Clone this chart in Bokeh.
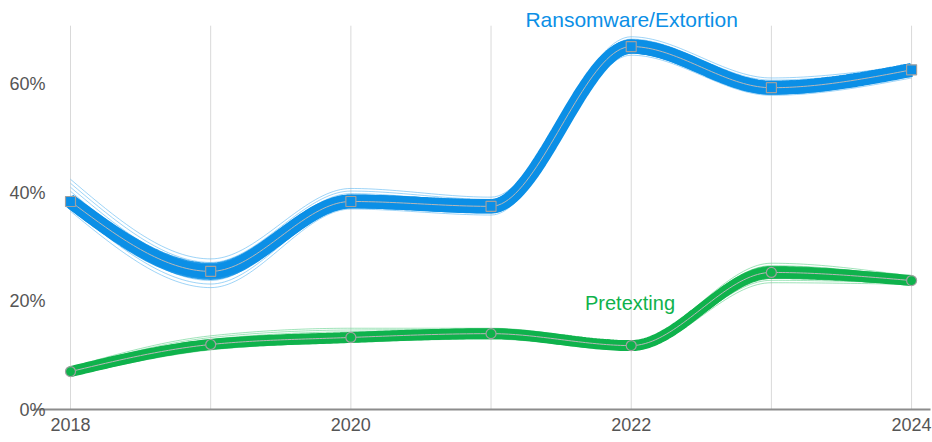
import numpy as np
from bokeh.plotting import figure
from bokeh.models import Range1d, FixedTicker, PrintfTickFormatter, Label
from bokeh.embed import file_html
from bokeh.resources import INLINE

# ---- data ----
years = [2018, 2019, 2020, 2021, 2022, 2023, 2024]
label_years = [2018, 2020, 2022, 2024]
y_ticks = [0, 20, 40, 60]
grid_top = 70.85

ransom = [38.4, 25.5, 38.4, 37.5, 67.0, 59.4, 62.7]
ransom_hi = [42.5, 27.8, 40.8, 39.2, 68.8, 61.2, 63.6]
ransom_lo = [36.6, 22.5, 37.0, 35.9, 65.4, 58.0, 61.2]

pretext = [7.0, 12.0, 13.3, 14.0, 11.8, 25.3, 23.8]
pretext_hi = [7.8, 13.6, 15.0, 15.0, 12.6, 27.0, 24.6]
pretext_lo = [6.2, 11.0, 12.4, 13.0, 11.0, 23.4, 23.1]

BLUE = "#0b8fe6"
BLUE_LIGHT = "#5db8f2"
GREEN = "#0fb24c"
GREEN_LIGHT = "#5fd08a"


def monotone(xs, ys, n=40):
    """d3-style monotoneX cubic through the points."""
    xs = np.asarray(xs, float)
    ys = np.asarray(ys, float)
    m = len(xs)
    h = np.diff(xs)
    s = np.diff(ys) / h
    t = np.zeros(m)
    for i in range(1, m - 1):
        p_ = (s[i - 1] * h[i] + s[i] * h[i - 1]) / (h[i - 1] + h[i])
        t[i] = (np.sign(s[i - 1]) + np.sign(s[i])) * min(abs(s[i - 1]), abs(s[i]), 0.5 * abs(p_))
    t[0] = (3 * s[0] - t[1]) / 2
    t[-1] = (3 * s[-1] - t[-2]) / 2
    ox, oy = [], []
    for i in range(m - 1):
        u = np.linspace(0, 1, n, endpoint=(i == m - 2))
        h00 = 2 * u**3 - 3 * u**2 + 1
        h10 = u**3 - 2 * u**2 + u
        h01 = -2 * u**3 + 3 * u**2
        h11 = u**3 - u**2
        ox.extend(xs[i] + u * h[i])
        oy.extend(h00 * ys[i] + h10 * h[i] * t[i] + h01 * ys[i + 1] + h11 * h[i] * t[i + 1])
    return np.array(ox), np.array(oy)


p = figure(width=932, height=442, output_backend="svg", toolbar_location=None,
           x_range=Range1d(2017.736, 2024.135), y_range=Range1d(0, 75.5),
           min_border_left=33, min_border_right=2, min_border_top=0, min_border_bottom=33)
p.outline_line_color = None
p.background_fill_color = "white"
p.border_fill_color = "white"

p.ygrid.grid_line_color = None
p.xgrid.grid_line_color = None
# vertical year gridlines that stop at the top of the value area
p.segment(x0=years, y0=[0] * len(years), x1=years, y1=[grid_top] * len(years),
          line_color="#d9d9d9", line_width=1)

p.xaxis.ticker = FixedTicker(ticks=label_years)
p.xaxis.axis_line_color = "#8c8c8c"
p.xaxis.axis_line_width = 2
p.xaxis.major_tick_line_color = None
p.xaxis.minor_tick_line_color = None
p.xaxis.major_tick_out = 0
p.xaxis.major_label_standoff = 8
p.xaxis.major_label_text_font = "Liberation Sans"
p.xaxis.major_label_text_font_size = "18px"
p.xaxis.major_label_text_color = "#555555"

p.yaxis.ticker = FixedTicker(ticks=y_ticks)
p.yaxis.formatter = PrintfTickFormatter(format="%d%%")
p.yaxis.axis_line_color = None
p.yaxis.major_tick_line_color = None
p.yaxis.minor_tick_line_color = None
p.yaxis.major_tick_out = 0
p.yaxis.major_label_standoff = -12
p.yaxis.major_label_text_font = "Liberation Sans"
p.yaxis.major_label_text_font_size = "18px"
p.yaxis.major_label_text_color = "#555555"


def draw_series(vals, lo, hi, color, light, core_w, marker):
    vals = np.asarray(vals, float)
    lo = np.asarray(lo, float)
    hi = np.asarray(hi, float)
    # thin bootstrap-like curves spread across the envelope
    for f in np.linspace(0, 1, 9):
        yy = lo + (hi - lo) * f
        cx, cy = monotone(years, yy)
        p.line(cx, cy, line_color=light, line_width=1, line_alpha=0.6)
    # dense core of curves
    for f in np.linspace(-1, 1, 5):
        yy = vals + f * 0.35 * np.minimum(vals - lo, hi - vals)
        cx, cy = monotone(years, yy)
        p.line(cx, cy, line_color=color, line_width=core_w * 0.6, line_alpha=0.9)
    cx, cy = monotone(years, vals)
    p.line(cx, cy, line_color=color, line_width=core_w, line_alpha=1.0)
    p.line(cx, cy, line_color="#b8b8b8", line_width=1, line_alpha=1.0)
    p.scatter(years, vals, marker=marker, size=10, fill_color=color,
              line_color="#a0a0a0", line_width=1.2)


draw_series(ransom, ransom_lo, ransom_hi, BLUE, BLUE_LIGHT, 14, "square")
draw_series(pretext, pretext_lo, pretext_hi, GREEN, GREEN_LIGHT, 11, "circle")

p.add_layout(Label(x=2021.245, y=72.0, text="Ransomware/Extortion", text_color=BLUE,
                   text_font="Liberation Sans", text_font_size="21px",
                   text_baseline="middle", text_align="left"))
p.add_layout(Label(x=2021.67, y=19.7, text="Pretexting", text_color=GREEN,
                   text_font="Liberation Sans", text_font_size="20px",
                   text_baseline="middle", text_align="left"))

open("out.html", "w").write(file_html(p, INLINE))
